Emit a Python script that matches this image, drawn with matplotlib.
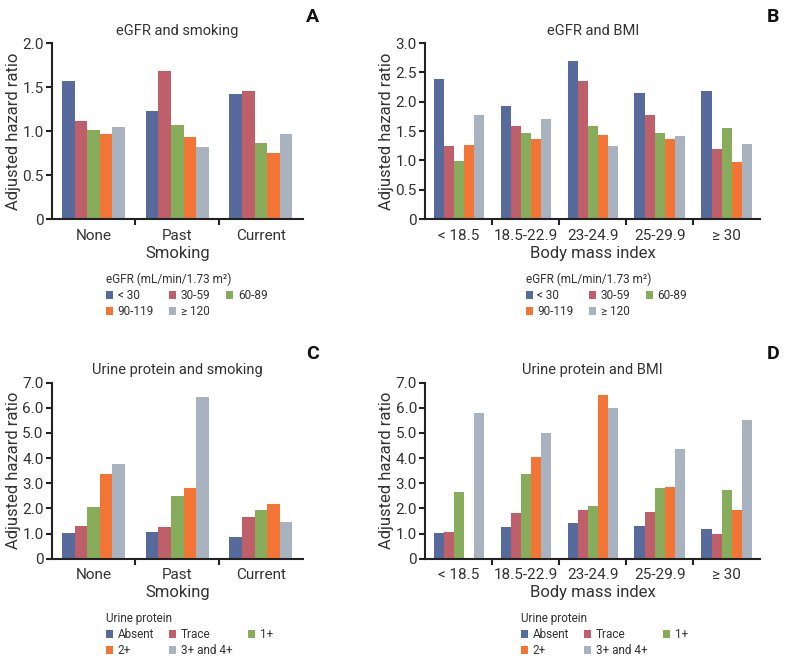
import numpy as np
import matplotlib

matplotlib.use("Agg")
import matplotlib.pyplot as plt
from matplotlib.patches import Patch

plt.rcParams["font.family"] = ["Roboto", "DejaVu Sans"]

# categories
smoking = ["None", "Past", "Current"]
bmi = ["< 18.5", "18.5-22.9", "23-24.9", "25-29.9", "\u2265 30"]
egfr_groups = ["< 30", "30-59", "60-89", "90-119", "\u2265 120"]
protein_groups = ["Absent", "Trace", "1+", "2+", "3+ and 4+"]

# A: eGFR and smoking (one list per eGFR group, values per smoking status)
egfr_lt30_smk = [1.57, 1.23, 1.42]
egfr_30_59_smk = [1.11, 1.68, 1.46]
egfr_60_89_smk = [1.01, 1.07, 0.87]
egfr_90_119_smk = [0.97, 0.93, 0.75]
egfr_ge120_smk = [1.045, 0.82, 0.97]

# B: eGFR and BMI
egfr_lt30_bmi = [2.38, 1.92, 2.69, 2.15, 2.19]
egfr_30_59_bmi = [1.24, 1.59, 2.35, 1.77, 1.20]
egfr_60_89_bmi = [0.99, 1.46, 1.59, 1.47, 1.55]
egfr_90_119_bmi = [1.27, 1.37, 1.44, 1.36, 0.97]
egfr_ge120_bmi = [1.78, 1.71, 1.24, 1.41, 1.28]

# C: urine protein and smoking
prot_absent_smk = [1.01, 1.06, 0.86]
prot_trace_smk = [1.30, 1.25, 1.66]
prot_1_smk = [2.04, 2.48, 1.95]
prot_2_smk = [3.37, 2.82, 2.19]
prot_34_smk = [3.78, 6.43, 1.47]

# D: urine protein and BMI
prot_absent_bmi = [1.01, 1.26, 1.42, 1.30, 1.18]
prot_trace_bmi = [1.07, 1.83, 1.92, 1.86, 0.98]
prot_1_bmi = [2.65, 3.36, 2.08, 2.81, 2.75]
prot_2_bmi = [0.03, 4.05, 6.49, 2.86, 1.94]
prot_34_bmi = [5.78, 5.00, 6.01, 4.38, 5.53]

colors = ["#566B9B", "#BF5F6A", "#86AC5C", "#F37535", "#A9B3BF"]
TEXT = "#333333"


def bar_panel(ax, cats, series, labels, ymax, ystep, title, xlabel, legend_title,
              letter, ylab_x, leg_x, letter_x, letter_dy):
    n = len(series)
    width = 0.15
    x = np.arange(len(cats))
    for i, vals in enumerate(series):
        ax.bar(x + (i - (n - 1) / 2) * width, vals, width, color=colors[i], linewidth=0)

    ax.set_xlim(-0.5, len(cats) - 0.5)
    ax.set_ylim(0, ymax)
    yt = np.arange(0, ymax + 1e-9, ystep)
    ax.set_yticks(yt)
    ax.set_yticklabels(["0"] + [f"{v:.1f}" for v in yt[1:]])
    ax.set_xticks(x)
    ax.set_xticklabels(cats)
    ax.set_xticks(np.arange(0.5, len(cats) - 0.5), minor=True)
    ax.tick_params(axis="x", which="major", length=0, pad=7, labelsize=11, labelcolor=TEXT)
    ax.tick_params(axis="x", which="minor", length=4, width=1.5, direction="out", color="#222222")
    ax.tick_params(axis="y", length=4, width=1.5, direction="out", labelsize=11,
                   labelcolor=TEXT, color="#222222", pad=2)

    for side in ["top", "right"]:
        ax.spines[side].set_visible(False)
    for side in ["left", "bottom"]:
        ax.spines[side].set_linewidth(1.5)
        ax.spines[side].set_color("#222222")

    ax.set_title(title, fontsize=10.5, color=TEXT, pad=6)
    ax.set_xlabel(xlabel, fontsize=12, color=TEXT, labelpad=2)
    ax.set_ylabel("Adjusted hazard ratio", fontsize=12, color=TEXT)
    ax.yaxis.set_label_coords(ylab_x, 0.5)

    handles = [Patch(facecolor=c, edgecolor="none") for c in colors]
    order = [0, 3, 1, 4, 2]
    leg = ax.legend([handles[i] for i in order], [labels[i] for i in order],
                    ncol=3, loc="upper left", bbox_to_anchor=(leg_x, -0.305),
                    frameon=False, fontsize=8.5, title=legend_title, title_fontsize=8.5,
                    handlelength=0.6, handleheight=0.6, handletextpad=0.4,
                    labelspacing=0.25, columnspacing=1.3, borderpad=0, borderaxespad=0,
                    alignment="left")
    for t in leg.get_texts():
        t.set_color(TEXT)
    leg.get_title().set_color(TEXT)

    bb = ax.get_position()
    ax.figure.text(letter_x, bb.y1 + letter_dy, letter,
                   fontsize=14, fontweight="bold", ha="center", va="center", color="#111111")


fig = plt.figure(figsize=(7.86, 6.62), dpi=100)
ax_a = fig.add_axes([0.066, 0.669, 0.319, 0.266])
ax_b = fig.add_axes([0.541, 0.669, 0.426, 0.266])
ax_c = fig.add_axes([0.066, 0.156, 0.319, 0.266])
ax_d = fig.add_axes([0.541, 0.156, 0.426, 0.266])

egfr_title = "eGFR (mL/min/1.73 m\u00b2)"
bar_panel(ax_a, smoking,
          [egfr_lt30_smk, egfr_30_59_smk, egfr_60_89_smk, egfr_90_119_smk, egfr_ge120_smk],
          egfr_groups, 2.0, 0.5, "eGFR and smoking", "Smoking", egfr_title, "A",
          -0.125, 0.215, 0.398, 0.039)
bar_panel(ax_b, bmi,
          [egfr_lt30_bmi, egfr_30_59_bmi, egfr_60_89_bmi, egfr_90_119_bmi, egfr_ge120_bmi],
          egfr_groups, 3.0, 0.5, "eGFR and BMI", "Body mass index", egfr_title, "B",
          -0.092, 0.30, 0.983, 0.039)
bar_panel(ax_c, smoking,
          [prot_absent_smk, prot_trace_smk, prot_1_smk, prot_2_smk, prot_34_smk],
          protein_groups, 7.0, 1.0, "Urine protein and smoking", "Smoking", "Urine protein", "C",
          -0.125, 0.215, 0.398, 0.044)
bar_panel(ax_d, bmi,
          [prot_absent_bmi, prot_trace_bmi, prot_1_bmi, prot_2_bmi, prot_34_bmi],
          protein_groups, 7.0, 1.0, "Urine protein and BMI", "Body mass index", "Urine protein", "D",
          -0.092, 0.285, 0.983, 0.044)

fig.savefig("out.png", dpi=100)
